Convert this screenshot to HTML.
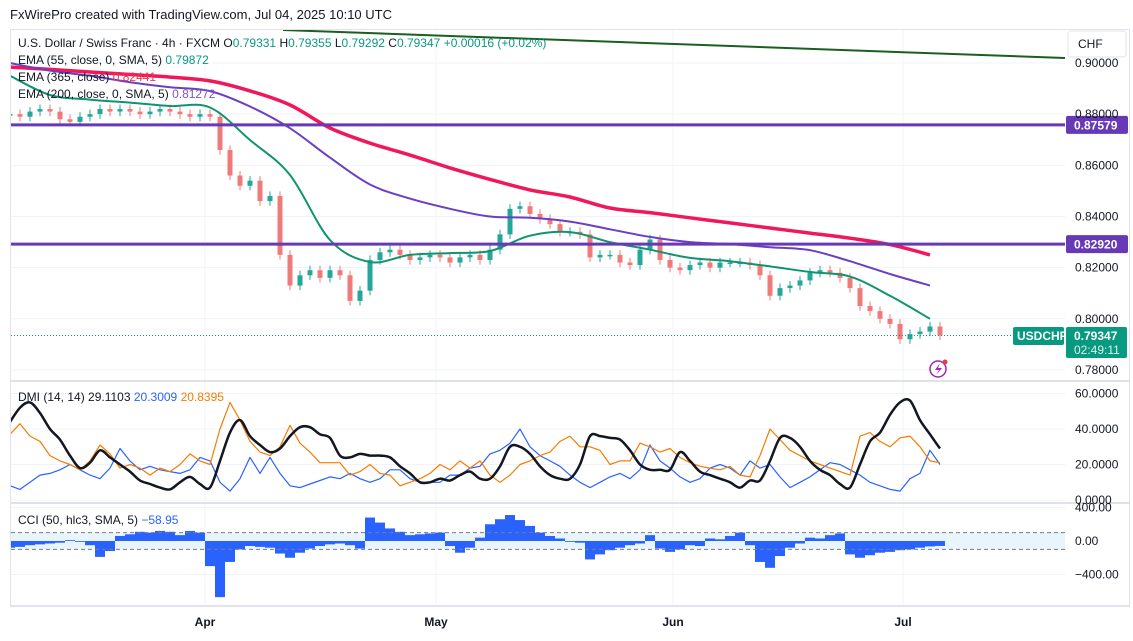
<!DOCTYPE html>
<html><head><meta charset="utf-8">
<style>
html,body{margin:0;padding:0;background:#fff;}
svg{display:block;font-family:"Liberation Sans",sans-serif;}
</style></head>
<body>
<svg id="chart" width="1133" height="641" viewBox="0 0 1133 641" xmlns="http://www.w3.org/2000/svg">
  <defs><clipPath id="plotclip"><rect x="11" y="30" width="1054" height="575"/></clipPath></defs>
  <rect x="0" y="0" width="1133" height="641" fill="#fff"/>
  <text x="10" y="19" font-size="13" fill="#131722">FxWirePro created with TradingView.com, Jul 04, 2025 10:10 UTC</text>
  <rect x="10.5" y="29.5" width="1119" height="577" fill="none" stroke="#e0e3eb"/>
  <g id="grid"></g>
  <g id="main" clip-path="url(#plotclip)"></g>
  <g id="dmi" clip-path="url(#plotclip)"></g>
  <g id="cci" clip-path="url(#plotclip)"></g>
  <g id="axes"></g>
  <g id="legend">
    <text x="18" y="47" font-size="12" fill="#131722">U.S. Dollar / Swiss Franc · 4h · FXCM <tspan>O</tspan><tspan fill="#089981">0.79331</tspan>  <tspan>H</tspan><tspan fill="#089981">0.79355</tspan>  <tspan>L</tspan><tspan fill="#089981">0.79292</tspan>  <tspan>C</tspan><tspan fill="#089981">0.79347</tspan> <tspan fill="#089981">+0.00016 (+0.02%)</tspan></text>
    <text x="18" y="64" font-size="12" fill="#131722">EMA (55, close, 0, SMA, 5) <tspan fill="#089981">0.79872</tspan></text>
    <text x="18" y="81" font-size="12" fill="#131722">EMA (365, close) <tspan fill="#f23645">0.82441</tspan></text>
    <text x="18" y="98" font-size="12" fill="#131722">EMA (200, close, 0, SMA, 5) <tspan fill="#7e57c2">0.81272</tspan></text>
    <text x="18" y="401" font-size="12" fill="#131722">DMI (14, 14) 29.1103 <tspan fill="#2962ff">20.3009</tspan> <tspan fill="#f57c00">20.8395</tspan></text>
    <text x="18" y="524" font-size="12" fill="#131722">CCI (50, hlc3, SMA, 5) <tspan fill="#2962ff">−58.95</tspan></text>
  </g>
</svg>
<script>
// ---------- data ----------
const closes = [0.880,0.879,0.881,0.882,0.881,0.878,0.877,0.879,0.880,0.882,0.881,0.882,0.881,0.880,0.881,0.882,0.881,0.880,0.879,0.880,
 0.879,0.866,0.856,0.852,0.854,0.846,0.848,0.825,0.813,0.817,0.819,0.816,0.819,0.817,0.807,0.811,0.823,0.826,0.827,0.825,
 0.823,0.824,0.825,0.824,0.822,0.824,0.825,0.823,0.827,0.833,0.843,0.844,0.841,0.839,0.837,0.834,0.834,0.833,0.824,0.825,
 0.825,0.822,0.821,0.827,0.831,0.823,0.820,0.819,0.821,0.822,0.820,0.822,0.822,0.822,0.821,0.817,0.809,0.812,0.813,0.815,
 0.818,0.819,0.818,0.816,0.812,0.805,0.803,0.800,0.798,0.792,0.794,0.795,0.797,0.7935];
const ema55 = [0.8950,0.8875,0.8857,0.8845,0.8832,0.8826,0.8699,0.8562,0.8308,0.8222,0.8250,0.8257,0.8265,0.8325,0.8339,0.8300,0.8270,0.8238,0.8225,0.8205,0.8183,0.8165,0.8090,0.8000];
const ema200 = [0.9000,0.8970,0.8950,0.8925,0.8905,0.8890,0.8830,0.8745,0.8630,0.8525,0.8470,0.8430,0.8400,0.8395,0.8380,0.8350,0.8320,0.8300,0.8292,0.8280,0.8268,0.8225,0.8175,0.8130];
const ema365 = [0.8984,0.8975,0.8965,0.8955,0.8945,0.8930,0.8891,0.8836,0.8746,0.8687,0.8640,0.8590,0.8545,0.8504,0.8476,0.8433,0.8415,0.8395,0.8375,0.8355,0.8335,0.8315,0.8290,0.8250];
const adx = [44,52,55,49,40,34,25,18,21,28,24,20,16,11,9,7,6,10,13,9,7,22,38,45,36,31,27,29,36,41,41,37,35,25,24,26,25,25,24,19,15,10,10,12,11,14,16,12,12,19,30,30,26,19,14,12,12,20,36,36,35,34,28,20,17,17,17,27,22,16,14,12,10,7,11,11,22,35,35,30,22,17,14,9,7,20,33,38,48,55,56,45,37,29];
const minusDI = [37,43,36,33,25,22,20,17,22,31,26,18,20,18,14,18,16,20,26,22,20,40,55,45,33,27,25,30,42,32,27,21,21,21,14,16,20,15,14,8,10,12,15,20,17,22,18,22,14,10,14,20,22,25,27,33,36,30,30,28,20,22,22,32,30,27,29,24,21,19,18,17,19,14,13,25,40,34,28,25,22,20,18,16,14,36,38,33,30,35,36,30,22,21];
const plusDI = [8,6,10,14,15,17,20,17,14,12,18,29,22,17,19,17,16,15,17,24,22,10,5,12,24,15,24,15,8,7,9,11,13,12,15,12,10,12,17,17,12,10,10,10,14,14,18,19,26,28,32,40,30,25,22,19,14,10,7,10,13,15,12,17,31,22,18,13,10,12,18,20,18,14,22,18,20,13,7,10,13,17,21,20,17,14,10,8,6,5,12,15,28,20];
const cci = [-80,-70,-50,-40,-30,-20,10,-10,-50,-190,-120,60,80,110,100,120,110,70,120,100,-300,-670,-250,-100,-60,-70,-80,-150,-200,-140,-90,-60,-40,-30,-50,-90,280,220,150,110,70,80,90,100,-60,-140,-80,40,200,260,310,250,180,100,60,30,-10,-20,-220,-160,-110,-80,-50,-30,70,-90,-130,-100,-50,-60,30,20,60,100,-50,-250,-320,-180,-80,-30,40,30,70,90,-160,-200,-170,-140,-130,-110,-100,-80,-65,-59];
const priceTicks = [0.90,0.88,0.86,0.84,0.82,0.80,0.78];
const dmiTicks = [60,40,20,0];
const cciTicks = [400,0,-400];
const months = ["Apr","May","Jun","Jul"];
const monthIdx = [19.5,42.6,66.3,89.3];
const hLevels = [0.87579,0.82920];
const lastPrice = 0.79347;

// ---------- scales ----------
const X0 = 10, STEP = 10;
const xAt = i => X0 + i*STEP;
const yP = p => 63 + (0.90 - p)*2558;
const yD = v => 500 - v*1.775;
const yC = v => 541 - v*0.08375;
const NS = "http://www.w3.org/2000/svg";
function mk(tag, attrs, parent){
  const e = document.createElementNS(NS, tag);
  for (const k in attrs) e.setAttribute(k, attrs[k]);
  parent.appendChild(e); return e;
}
function smoothD(pts){
  let d = 'M'+pts[0][0].toFixed(1)+','+pts[0][1].toFixed(1);
  for (let i=0;i<pts.length-1;i++){
    const p0=pts[Math.max(0,i-1)], p1=pts[i], p2=pts[i+1], p3=pts[Math.min(pts.length-1,i+2)];
    const c1=[p1[0]+(p2[0]-p0[0])/6, p1[1]+(p2[1]-p0[1])/6];
    const c2=[p2[0]-(p3[0]-p1[0])/6, p2[1]-(p3[1]-p1[1])/6];
    d += ' C'+c1[0].toFixed(1)+','+c1[1].toFixed(1)+' '+c2[0].toFixed(1)+','+c2[1].toFixed(1)+' '+p2[0].toFixed(1)+','+p2[1].toFixed(1);
  }
  return d;
}
const grid = document.getElementById('grid');
const main = document.getElementById('main');
const dmi = document.getElementById('dmi');
const cciG = document.getElementById('cci');
const axes = document.getElementById('axes');

// grid
priceTicks.forEach(t => { const l = mk('line',{x1:11,x2:1065,y1:yP(t),y2:yP(t),stroke:'#f0f3fa'},grid);
    });
dmiTicks.forEach(t => { const l = mk('line',{x1:11,x2:1065,y1:yD(t),y2:yD(t),stroke:'#f0f3fa'},grid);
    });
cciTicks.forEach(t => { const l = mk('line',{x1:11,x2:1065,y1:yC(t),y2:yC(t),stroke:'#f0f3fa'},grid);
    });
monthIdx.forEach(m => { const l = mk('line',{x1:xAt(m),x2:xAt(m),y1:30,y2:605,stroke:'#f0f3fa'},grid);
    });
[381,503].forEach(y => { const l = mk('line',{x1:11,x2:1130,y1:y,y2:y,stroke:'#d6d9e0','stroke-width':1.5},grid);
    });
{ const l = mk('line',{x1:11,x2:1130,y1:605.5,y2:605.5,stroke:'#e0e3eb'},grid);
    }

// long-term trend line
{ const l = mk('line',{x1:283,y1:30,x2:1065,y2:58,stroke:'#1b5e20','stroke-width':2},main);
    }

// candles
closes.forEach((c,i) => {
  const o = i===0 ? c : closes[i-1];
  const up = c >= o;
  const col = up ? '#26a69a' : '#ef7a7a';
  const hi = Math.max(o,c)+0.0018, lo = Math.min(o,c)-0.0018;
  const x = xAt(i);
  const w = mk('line',{x1:x,x2:x,y1:yP(hi),y2:yP(lo),stroke:col,'stroke-width':1},main);
   
  const top = yP(Math.max(o,c)), h = Math.max(1.5, yP(Math.min(o,c))-top);
  const b = mk('rect',{x:x-2.5,y:top,width:5,height:h,fill:col},main);
   
});

function emaPath(arr, col, w, name){
  const pts = arr.map((v,k)=>[xAt(k*4), yP(v)]);
  const p = mk('path',{d:smoothD(pts),fill:'none',stroke:col,'stroke-width':w,'stroke-linejoin':'round'},main);
   
}
emaPath(ema365,'#f0185a',3.5,'ema365-line');
emaPath(ema200,'#6a3fc4',2,'ema200-line');
emaPath(ema55,'#0f9470',2,'ema55-line');

// horizontal levels
hLevels.forEach(v => {
  const l = mk('line',{x1:11,x2:1065,y1:yP(v),y2:yP(v),stroke:'#6739b7','stroke-width':3},main);
   
  const r = mk('rect',{x:1066,y:yP(v)-9,width:62,height:18,fill:'#6739b7',rx:2},axes);
   
  const t = mk('text',{x:1074,y:yP(v)+4.5,'font-size':12,fill:'#fff','font-weight':'bold'},axes);
  t.textContent = v.toFixed(5);
   
});

// last price dotted line
{ const l = mk('line',{x1:11,x2:1013,y1:yP(lastPrice),y2:yP(lastPrice),stroke:'#089981','stroke-dasharray':'1 2'},main);
    }

// DMI lines
function dmiPath(arr,col,w,name){
  const d = arr.map((v,i)=>(i?'L':'M')+xAt(i)+','+yD(v).toFixed(1)).join(' ');
  const p = mk('path',{d:d,fill:'none',stroke:col,'stroke-width':w,'stroke-linejoin':'round'},dmi);
   
}
dmiPath(plusDI,'#2962ff',1.2,'plus-di-line');
dmiPath(minusDI,'#f57c00',1.2,'minus-di-line');
{ const pts = adx.map((v,i)=>[xAt(i), yD(v)]);
  const p = mk('path',{d:smoothD(pts),fill:'none',stroke:'#131722','stroke-width':2.5},dmi);
    }

// CCI
{ const r = mk('rect',{x:11,y:yC(100),width:1054,height:yC(-100)-yC(100),fill:'#e3f2fd',opacity:0.8},cciG);
    }
cci.forEach((v,i) => {
  const y1 = Math.min(yC(0),yC(v)), h = Math.abs(yC(v)-yC(0));
  const r = mk('rect',{x:xAt(i)-5,y:y1,width:10,height:Math.max(h,0.5),fill:'#2962ff'},cciG);
   
});
[100,-100].forEach(v => { const l = mk('line',{x1:11,x2:1065,y1:yC(v),y2:yC(v),stroke:'#787b86','stroke-dasharray':'4 3'},cciG);
    });

// axis labels
priceTicks.forEach(t => { const e = mk('text',{x:1075,y:yP(t)+4,'font-size':12,fill:'#131722'},axes);
  e.textContent = t.toFixed(5);
    });
dmiTicks.forEach(t => { const e = mk('text',{x:1075,y:yD(t)+4,'font-size':12,fill:'#131722'},axes);
  e.textContent = t.toFixed(4);
    });
cciTicks.forEach(t => { const e = mk('text',{x:1075,y:yC(t)+4,'font-size':12,fill:'#131722'},axes);
  e.textContent = (t<0?'−':'')+Math.abs(t).toFixed(2);
    });
months.forEach((m,k) => { const e = mk('text',{x:xAt(monthIdx[k]),y:626,'font-size':12,fill:'#131722','text-anchor':'middle','font-weight':'bold'},axes);
  e.textContent = m;
    });

// last price labels
{ const r = mk('rect',{x:1013,y:327,width:51,height:18,fill:'#089981',rx:2},axes);
   
  const t = mk('text',{x:1017,y:340,'font-size':12,fill:'#fff','font-weight':'bold'},axes); t.textContent='USDCHF';
   
  const r2 = mk('rect',{x:1066,y:327,width:61,height:31,fill:'#089981',rx:2},axes);
   
  const t2 = mk('text',{x:1074,y:340,'font-size':12,fill:'#fff','font-weight':'bold'},axes); t2.textContent='0.79347';
   
  const t3 = mk('text',{x:1074,y:354,'font-size':12,fill:'#d9f2ec'},axes); t3.textContent='02:49:11';
   
}
// currency box
{ const r = mk('rect',{x:1068,y:31,width:58,height:26,fill:'#fff',stroke:'#e0e3eb',rx:3},axes);
   
  const t = mk('text',{x:1078,y:48,'font-size':12,fill:'#131722'},axes); t.textContent='CHF';
    }
// event icon
{ const c = mk('circle',{cx:938,cy:369,r:8,fill:'#fff',stroke:'#9c27b0','stroke-width':1.5},main);
   
  const p = mk('path',{d:'M940,363 L935,370 L939,370 L936,375 L942,368 L938,368 Z',fill:'#9c27b0'},main);
   
  const d = mk('circle',{cx:945,cy:362,r:2.5,fill:'#f23645'},main);
    }
</script>
</body></html>
